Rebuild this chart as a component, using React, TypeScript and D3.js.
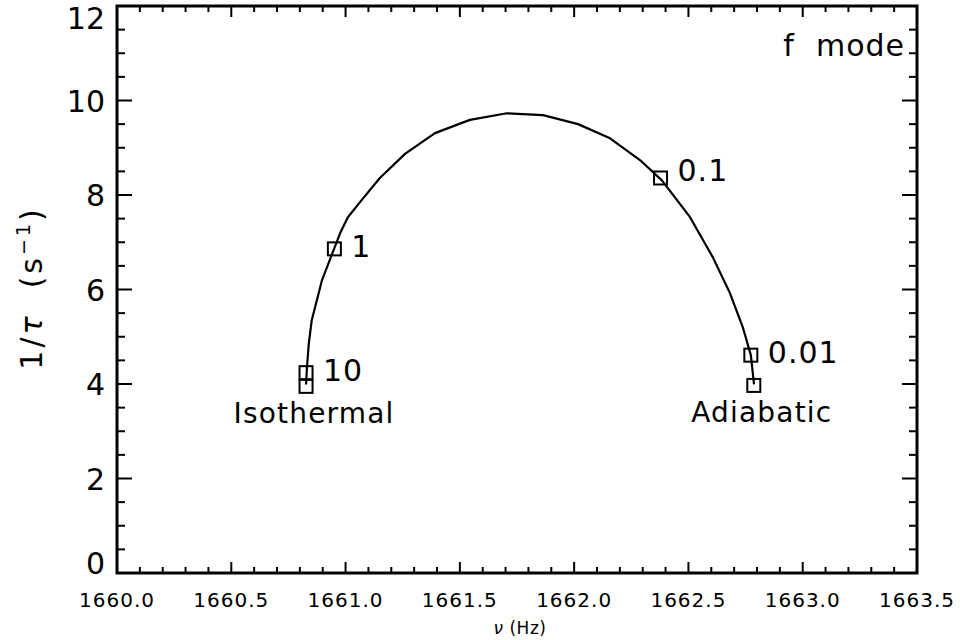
import React from 'react';
import * as d3 from 'd3';

// curve: frequency (Hz) vs damping rate 1/tau (s^-1)
const curveNu = [1660.827, 1660.831, 1660.839, 1660.852, 1660.897, 1660.976, 1661.010, 1661.063, 1661.150, 1661.260, 1661.391, 1661.544, 1661.706, 1661.864, 1662.017, 1662.157, 1662.288, 1662.384, 1662.507, 1662.607, 1662.682, 1662.738, 1662.773, 1662.787];
const curveRate = [3.99, 4.35, 4.85, 5.35, 6.20, 7.19, 7.53, 7.85, 8.36, 8.87, 9.31, 9.59, 9.73, 9.69, 9.50, 9.20, 8.74, 8.31, 7.53, 6.68, 5.92, 5.20, 4.61, 3.99];

// marked points and their labels
const markNu = [1660.827, 1660.827, 1660.951, 1662.378, 1662.773, 1662.786];
const markRate = [4.24, 3.95, 6.86, 8.36, 4.61, 3.97];
const markLabels = ['10', 'Isothermal', '1', '0.1', '0.01', 'Adiabatic'];

const xTicks = [1660.0, 1660.5, 1661.0, 1661.5, 1662.0, 1662.5, 1663.0, 1663.5];
const yTicks = [0, 2, 4, 6, 8, 10, 12];

const W = 960;
const H = 640;
const m = { left: 117, right: 43, top: 6, bottom: 67 };
const font = '"DejaVu Sans", Verdana, sans-serif';

export default function App() {
  const x = d3.scaleLinear().domain([1660.0, 1663.5]).range([m.left, W - m.right]);
  const y = d3.scaleLinear().domain([0, 12]).range([H - m.bottom, m.top]);

  const line = d3.line<number>()
    .x((_, i) => x(curveNu[i]))
    .y((_, i) => y(curveRate[i]));

  const xMinor = d3.range(1660.0, 1663.5001, 0.1);
  const yMinor = d3.range(0, 12.001, 0.5);
  const x0 = m.left, x1 = W - m.right, y0 = H - m.bottom, y1 = m.top;
  const sq = 13;

  return (
    <svg width={W} height={H} style={{ position: 'absolute', left: 0, top: 0, background: '#fff' }} fontFamily={font}>
      <rect width={W} height={H} fill="#fff" />

      {/* minor + major ticks on x (bottom & top) */}
      <g stroke="#000" strokeWidth={2}>
        {xMinor.map((v, i) => {
          const major = i % 5 === 0;
          const len = major ? 11 : 6;
          return (
            <g key={'xm' + i}>
              <line x1={x(v)} x2={x(v)} y1={y0} y2={y0 - len} />
              <line x1={x(v)} x2={x(v)} y1={y1} y2={y1 + len} />
            </g>
          );
        })}
        {yMinor.map((v, i) => {
          const major = i % 4 === 0;
          const len = major ? 15 : 8;
          return (
            <g key={'ym' + i}>
              <line x1={x0} x2={x0 + len} y1={y(v)} y2={y(v)} />
              <line x1={x1} x2={x1 - len} y1={y(v)} y2={y(v)} />
            </g>
          );
        })}
      </g>

      {/* frame */}
      <rect x={x0} y={y1} width={x1 - x0} height={y0 - y1} fill="none" stroke="#000" strokeWidth={3} />

      {/* x tick labels */}
      {xTicks.map(v => (
        <text key={'xt' + v} x={x(v)} y={y0 + 34} textAnchor="middle" fontSize={20} letterSpacing={1}>
          {d3.format('.1f')(v)}
        </text>
      ))}

      {/* y tick labels, ends kept inside the axis range */}
      {yTicks.map((v, i) => {
        let yy = y(v) + 11;
        if (i === 0) yy = y0 + 1;
        if (i === yTicks.length - 1) yy = y1 + 23;
        return (
          <text key={'yt' + v} x={x0 - 12} y={yy} textAnchor="end" fontSize={30}>
            {v}
          </text>
        );
      })}

      {/* axis titles */}
      <text x={520} y={634} textAnchor="middle" fontSize={17} letterSpacing={0.5}>
        <tspan fontStyle="italic">ν</tspan> (Hz)
      </text>
      <text transform="translate(42,288) rotate(-90)" textAnchor="middle" fontSize={30} letterSpacing={3} xmlSpace="preserve">
        1/<tspan fontStyle="italic">τ</tspan>  (s<tspan fontSize={19} dy={-12}>−1</tspan><tspan dy={12}>)</tspan>
      </text>

      <text x={905} y={56} textAnchor="end" fontSize={30} letterSpacing={1} xmlSpace="preserve">
        f  mode
      </text>

      {/* curve */}
      <path d={line(curveNu) || ''} fill="none" stroke="#000" strokeWidth={2.2} strokeLinejoin="round" />

      {/* markers */}
      {markNu.map((v, i) => (
        <rect key={'mk' + i} x={x(v) - sq / 2} y={y(markRate[i]) - sq / 2} width={sq} height={sq}
          fill="none" stroke="#000" strokeWidth={2} />
      ))}

      {/* marker labels */}
      {markLabels.map((t, i) => {
        const px = x(markNu[i]);
        const py = y(markRate[i]);
        const isEnd = t === 'Isothermal' || t === 'Adiabatic';
        if (isEnd) {
          return (
            <text key={'ml' + i} x={px + 8} y={py + 37} textAnchor="middle" fontSize={28} letterSpacing={1.2}>
              {t}
            </text>
          );
        }
        const dy = t === '0.1' ? 3 : 8;
        return (
          <text key={'ml' + i} x={px + 17} y={py + dy} textAnchor="start" fontSize={30} letterSpacing={1}>
            {t}
          </text>
        );
      })}
    </svg>
  );
}
